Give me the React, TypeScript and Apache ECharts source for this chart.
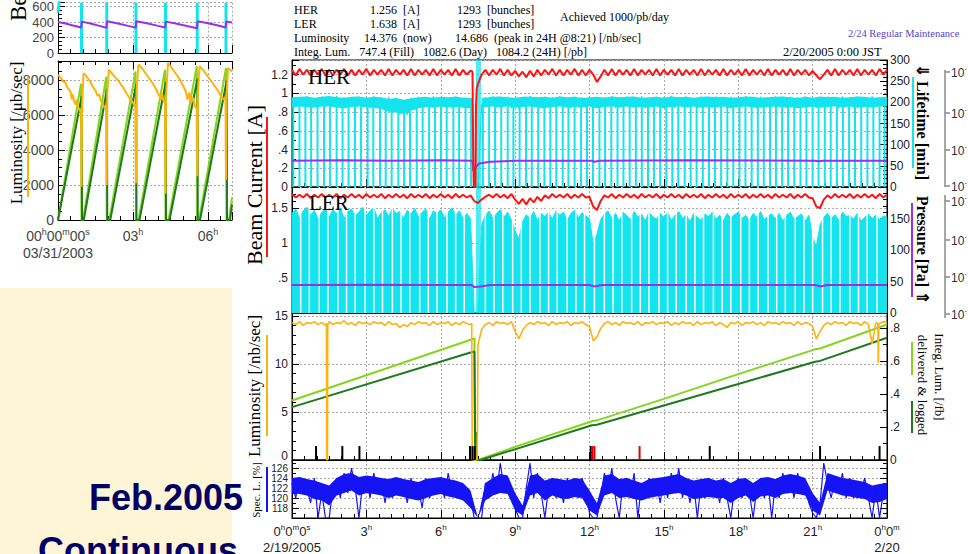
import React, { useEffect, useRef } from "react";
import * as echarts from "echarts";

const SANS = "'Liberation Sans', Arial, Helvetica, sans-serif";
const SERIF = "'Liberation Serif', 'Times New Roman', Times, serif";

const RED = "#ff1414";
const CYAN = "#14e4ee";
const PURPLE = "#9a2ef0";
const ORANGE = "#ffb20a";
const LGREEN = "#84d61c";
const DGREEN = "#1e7a1e";
const BLUE = "#1414f5";
const NAVY = "#000066";

// ================= Main chart: 2/19/2005 (hours 0..24) =================
// fine series sampled every STEP_H hours, band envelopes every BAND_STEP_H hours
const STEP_H = 0.15;
const BAND_STEP_H = 0.3;

// HER beam current [A]
const herCurrent = [
  1.25, 1.19, 1.26, 1.20, 1.25, 1.19, 1.25, 1.20, 1.26, 1.19,
  1.25, 1.19, 1.25, 1.20, 1.26, 1.19, 1.25, 1.19, 1.25, 1.20,
  1.26, 1.19, 1.25, 1.20, 1.25, 1.19, 1.26, 1.19, 1.25, 1.20,
  1.25, 1.19, 1.26, 1.19, 1.25, 1.20, 1.25, 1.19, 1.26, 1.19,
  1.25, 1.20, 1.25, 1.19, 1.26, 1.19, 1.25, 1.20, 1.24, 0.00,
  1.10, 1.20, 1.25, 1.19, 1.25, 1.20, 1.26, 1.19, 1.25, 1.19,
  1.24, 1.18, 1.23, 1.17, 1.24, 1.18, 1.25, 1.19, 1.25, 1.20,
  1.26, 1.19, 1.25, 1.19, 1.25, 1.20, 1.26, 1.19, 1.25, 1.19,
  1.25, 1.20, 1.12, 1.18, 1.25, 1.19, 1.26, 1.19, 1.25, 1.20,
  1.25, 1.19, 1.26, 1.19, 1.25, 1.20, 1.25, 1.19, 1.26, 1.19,
  1.25, 1.20, 1.25, 1.19, 1.26, 1.19, 1.25, 1.20, 1.25, 1.19,
  1.26, 1.19, 1.25, 1.20, 1.25, 1.19, 1.26, 1.19, 1.25, 1.20,
  1.25, 1.19, 1.26, 1.19, 1.25, 1.20, 1.25, 1.19, 1.26, 1.19,
  1.25, 1.20, 1.25, 1.19, 1.26, 1.19, 1.25, 1.20, 1.25, 1.19,
  1.24, 1.19, 1.15, 1.20, 1.25, 1.19, 1.26, 1.19, 1.25, 1.20,
  1.25, 1.19, 1.26, 1.19, 1.25, 1.20, 1.25, 1.19, 1.26, 1.20,
  1.25,
];
const herAbort = [[7.28, 1.23], [7.31, 0.35], [7.33, 0.02], [7.40, 0.0], [7.42, 0.85], [7.45, 1.05]];

// HER lifetime [min]: fine trace
const herLifetime = [
  205, 188, 212, 190, 214, 186, 210, 192, 213, 189,
  211, 190, 215, 187, 212, 191, 209, 185, 213, 190,
  212, 188, 214, 191, 208, 184, 212, 178, 210, 172,
  206, 170, 211, 183, 213, 188, 210, 190, 214, 189,
  212, 191, 210, 187, 213, 190, 211, 188, 205, 0,
  0, 195, 212, 190, 214, 188, 211, 191, 213, 187,
  210, 185, 212, 188, 214, 190, 211, 186, 213, 191,
  212, 189, 214, 190, 210, 187, 213, 191, 212, 188,
  211, 186, 200, 188, 212, 190, 214, 187, 211, 191,
  213, 189, 212, 190, 214, 186, 210, 191, 213, 188,
  212, 190, 215, 187, 211, 191, 213, 189, 210, 186,
  213, 190, 212, 188, 214, 191, 210, 187, 213, 190,
  211, 188, 214, 190, 212, 186, 213, 191, 210, 189,
  214, 190, 211, 187, 213, 191, 212, 188, 214, 190,
  210, 187, 200, 189, 213, 190, 212, 186, 214, 191,
  212, 189, 213, 190, 211, 188, 214, 190, 212, 195,
  210,
];
// HER lifetime noise band: upper / lower envelope [min]
const herBandHigh = [
  212, 213, 214, 211, 213, 215, 212, 211, 213, 214,
  211, 213, 212, 208, 210, 206, 209, 212, 213, 211,
  213, 212, 214, 211, 210, 0, 211, 213, 214, 212,
  211, 213, 214, 212, 213, 211, 214, 212, 213, 210,
  212, 213, 211, 214, 212, 213, 214, 211, 212, 213,
  211, 214, 212, 213, 211, 213, 214, 212, 213, 211,
  212, 214, 213, 211, 212, 213, 214, 212, 210, 213,
  211, 214, 212, 213, 211, 212, 214, 213, 211, 212,
  213,
];
const herBandLow = [
  188, 190, 189, 187, 190, 191, 188, 186, 189, 190,
  188, 187, 184, 178, 176, 172, 180, 186, 189, 187,
  190, 188, 189, 187, 186, 0, 189, 190, 188, 191,
  187, 189, 190, 188, 186, 189, 190, 187, 189, 188,
  190, 186, 189, 191, 188, 190, 187, 189, 188, 190,
  186, 189, 191, 188, 190, 187, 189, 188, 190, 186,
  189, 191, 188, 187, 189, 190, 188, 189, 186, 188,
  190, 187, 189, 191, 188, 190, 187, 189, 188, 190,
  191,
];
const herBandAbortHigh = [[7.30, 210], [7.32, 0], [7.64, 0], [7.66, 210]];
const herBandAbortLow = [[7.30, 186], [7.32, 0], [7.64, 0], [7.66, 186]];
// HER injection times [h]
const herInjections = [
  0.05, 0.30, 0.54, 0.77, 1.03, 1.29, 1.53, 1.80, 2.04, 2.28, 2.54, 2.78, 3.05, 3.28, 3.55,
  3.78, 4.02, 4.29, 4.52, 4.76, 5.03, 5.27, 5.53, 5.77, 6.01, 6.24, 6.51, 6.74, 7.00, 7.22,
  7.70, 7.95, 8.19, 8.44, 8.70, 8.93, 9.18, 9.44, 9.67, 9.93, 10.18, 10.42, 10.66, 10.92, 11.15,
  11.40, 11.66, 11.90, 12.14, 12.40, 12.63, 12.88, 13.13, 13.37, 13.62, 13.87, 14.11, 14.36,
  14.60, 14.85, 15.10, 15.34, 15.58, 15.84, 16.08, 16.32, 16.57, 16.82, 17.06, 17.31, 17.56,
  17.80, 18.05, 18.29, 18.54, 18.79, 19.03, 19.28, 19.52, 19.77, 20.01, 20.26, 20.51, 20.75,
  21.00, 21.24, 21.49, 21.73, 21.98, 22.22, 22.47, 22.71, 22.96, 23.21, 23.45, 23.70, 23.90,
];
const HER_DIP_TOP = 200;
const abortWindow = [7.42, 7.62];

const herPressure = [
  [0, 0.28], [2.0, 0.285], [4.0, 0.28], [6.0, 0.285], [7.28, 0.28], [7.32, 0.17], [7.40, 0.21],
  [7.55, 0.25], [8.0, 0.27], [9.0, 0.28], [12.1, 0.28], [12.2, 0.27], [12.4, 0.28], [16.0, 0.285],
  [21.1, 0.28], [21.25, 0.275], [21.4, 0.28], [24, 0.28],
];

// LER beam current [A]
const lerCurrent = [
  1.70, 1.65, 1.69, 1.65, 1.70, 1.64, 1.69, 1.65, 1.70, 1.65,
  1.69, 1.65, 1.70, 1.64, 1.69, 1.65, 1.70, 1.65, 1.69, 1.64,
  1.70, 1.65, 1.69, 1.65, 1.70, 1.64, 1.69, 1.65, 1.70, 1.65,
  1.69, 1.64, 1.70, 1.65, 1.69, 1.65, 1.70, 1.64, 1.69, 1.65,
  1.70, 1.65, 1.69, 1.64, 1.70, 1.65, 1.69, 1.65, 1.68, 1.60,
  1.57, 1.62, 1.66, 1.69, 1.65, 1.70, 1.65, 1.69, 1.64, 1.70,
  1.62, 1.56, 1.63, 1.55, 1.64, 1.58, 1.66, 1.60, 1.68, 1.64,
  1.70, 1.65, 1.69, 1.65, 1.70, 1.64, 1.69, 1.65, 1.70, 1.65,
  1.66, 1.52, 1.47, 1.60, 1.68, 1.65, 1.70, 1.64, 1.69, 1.65,
  1.70, 1.65, 1.69, 1.64, 1.70, 1.65, 1.69, 1.65, 1.70, 1.64,
  1.69, 1.65, 1.70, 1.65, 1.69, 1.64, 1.70, 1.65, 1.69, 1.65,
  1.70, 1.64, 1.69, 1.65, 1.70, 1.65, 1.69, 1.64, 1.70, 1.65,
  1.69, 1.65, 1.70, 1.64, 1.69, 1.65, 1.70, 1.65, 1.69, 1.64,
  1.70, 1.65, 1.69, 1.65, 1.70, 1.64, 1.69, 1.65, 1.70, 1.65,
  1.64, 1.52, 1.50, 1.62, 1.68, 1.64, 1.70, 1.65, 1.69, 1.65,
  1.70, 1.64, 1.69, 1.65, 1.70, 1.65, 1.69, 1.64, 1.70, 1.65,
  1.69,
];
// LER lifetime [min]
const lerLifetime = [
  158, 165, 150, 162, 168, 155, 163, 149, 160, 166,
  152, 164, 158, 167, 150, 161, 165, 154, 160, 168,
  155, 162, 167, 150, 159, 164, 153, 166, 158, 161,
  150, 163, 157, 166, 152, 160, 165, 149, 162, 158,
  164, 151, 160, 167, 155, 162, 150, 158, 150, 0,
  0, 140, 155, 162, 150, 158, 164, 152, 160, 148,
  130, 118, 145, 156, 150, 161, 147, 158, 153, 160,
  149, 162, 155, 160, 147, 158, 163, 151, 159, 154,
  150, 110, 125, 148, 157, 162, 150, 158, 146, 160,
  155, 148, 161, 152, 157, 146, 160, 153, 149, 158,
  152, 160, 147, 155, 161, 150, 156, 145, 158, 152,
  147, 157, 153, 160, 149, 155, 146, 158, 151, 156,
  160, 150, 155, 147, 158, 152, 161, 148, 154, 157,
  150, 158, 146, 155, 160, 149, 153, 157, 146, 155,
  120, 105, 140, 152, 158, 150, 156, 147, 160, 153,
  155, 149, 158, 146, 152, 157, 150, 155, 148, 154,
  152,
];
const lerRefills = [
  0.35, 0.70, 1.10, 1.45, 1.85, 2.20, 2.55, 2.95, 3.30, 3.65, 4.05, 4.40, 4.75, 5.15, 5.50,
  5.85, 6.25, 6.60, 6.95, 7.80, 8.15, 8.50, 8.90, 9.25, 9.60, 10.00, 10.35, 10.70, 11.10,
  11.45, 11.80, 12.20, 12.60, 12.95, 13.30, 13.70, 14.05, 14.40, 14.80, 15.15, 15.50, 15.90,
  16.25, 16.60, 17.00, 17.35, 17.70, 18.10, 18.45, 18.80, 19.20, 19.55, 19.90, 20.30, 20.65,
  21.00, 21.40, 21.75, 22.10, 22.50, 22.85, 23.20, 23.60,
];
const LER_TOP = 200;
const lerPressure = [
  [0, 0.40], [3.0, 0.405], [6.0, 0.40], [7.25, 0.40], [7.35, 0.37], [7.6, 0.38], [8.0, 0.40],
  [12.0, 0.40], [12.2, 0.38], [12.5, 0.40], [21.1, 0.40], [21.3, 0.38], [21.6, 0.40], [24, 0.40],
];

// Luminosity [/nb/sec]
const lumNow = [
  14.3, 14.1, 14.4, 14.0, 14.3, 14.2, 14.4, 14.1, 14.3, 14.0,
  14.4, 14.1, 14.3, 14.2, 14.5, 14.1, 14.3, 14.0, 14.4, 14.2,
  14.3, 14.1, 14.4, 14.2, 14.3, 14.0, 14.4, 14.1, 14.2, 13.8,
  14.1, 13.9, 14.3, 14.1, 14.4, 14.2, 14.3, 14.0, 14.4, 14.1,
  14.3, 14.2, 14.4, 14.0, 14.3, 14.1, 14.4, 14.2, 14.1, 0,
  12.0, 13.6, 14.1, 14.3, 14.0, 14.4, 14.2, 14.3, 14.1, 14.4,
  13.4, 12.6, 13.5, 14.0, 14.3, 14.1, 14.4, 14.2, 14.3, 14.0,
  14.4, 14.1, 14.3, 14.2, 14.4, 14.0, 14.3, 14.2, 14.4, 14.1,
  13.9, 12.4, 12.8, 13.7, 14.2, 14.4, 14.1, 14.3, 14.0, 14.4,
  14.2, 14.3, 14.1, 14.4, 14.0, 14.3, 14.2, 14.4, 14.1, 14.3,
  14.2, 14.4, 14.0, 14.3, 14.1, 14.4, 14.2, 14.3, 14.0, 14.4,
  14.1, 14.3, 14.2, 14.4, 14.0, 14.3, 14.1, 13.8, 14.3, 14.2,
  14.4, 14.0, 14.3, 14.2, 14.4, 14.1, 14.3, 14.0, 14.4, 14.2,
  14.3, 14.1, 14.4, 14.2, 14.3, 14.0, 14.4, 14.1, 14.3, 14.2,
  13.9, 12.6, 13.4, 14.0, 14.3, 14.1, 14.4, 14.2, 14.3, 14.0,
  14.4, 14.2, 14.3, 14.0, 14.4, 14.1, 12.1, 14.3, 14.2, 14.4,
  14.3,
];
const lumSpikes = [
  [1.39, 14.2], [1.40, 0], [1.43, 0], [1.44, 14.1],
  [7.25, 14.2], [7.27, 0], [7.46, 0], [7.48, 3.2],
  [23.63, 14.2], [23.65, 10.1], [23.67, 14.1],
];
// Integrated luminosity [/fb]
const lumDelivered = [
  [0, 0.36], [7.30, 0.733], [7.36, 0.735], [7.38, 0], [7.50, 0], [9.2, 0.09], [12.1, 0.235],
  [12.3, 0.24], [15, 0.37], [18, 0.52], [21.1, 0.67], [21.3, 0.675], [24, 0.82],
];
const lumLogged = [
  [0, 0.32], [7.30, 0.655], [7.36, 0.656], [7.37, 0.47], [7.39, 0], [7.42, 0.17], [7.44, 0],
  [7.60, 0], [12.1, 0.21], [12.3, 0.213], [15, 0.33], [18, 0.46], [21.1, 0.595], [21.3, 0.6], [24, 0.74],
];
const eventsBlack = [0.97, 2.03, 2.72, 7.18, 7.28, 7.37, 12.05, 16.85, 21.3, 23.7];
const eventsRed = [12.12, 12.2, 14.02];
const EVENT_LEVEL = 1.45;

// Specific luminosity [%]: fine trace
const specL = [
  123, 120, 124, 121, 122, 119, 124, 116, 121, 116,
  116, 122, 124, 120, 125, 121, 126, 122, 116, 123,
  124, 120, 125, 121, 124, 119, 123, 120, 124, 121,
  123, 119, 124, 120, 122, 118, 124, 120, 123, 121,
  124, 120, 125, 121, 123, 120, 122, 119, 120, 116,
  116, 116, 123, 120, 125, 121, 127, 122, 124, 120,
  118, 116, 116, 122, 127, 120, 125, 121, 116, 122,
  124, 120, 123, 119, 124, 121, 122, 120, 124, 121,
  117, 116, 116, 120, 125, 121, 126, 120, 116, 123,
  124, 120, 125, 116, 123, 120, 124, 121, 123, 119,
  124, 120, 125, 121, 126, 120, 124, 119, 123, 116,
  123, 120, 124, 121, 123, 119, 124, 120, 116, 122,
  124, 120, 123, 121, 116, 122, 124, 120, 123, 116,
  123, 120, 125, 121, 124, 120, 125, 121, 123, 119,
  117, 116, 119, 127, 123, 120, 124, 121, 125, 120,
  124, 120, 123, 121, 124, 120, 116, 122, 116, 121,
  123,
];
// Specific luminosity noise band envelopes [%]
const specBandHigh = [
  124.0, 124.2, 123.8, 123.5, 123.0, 122.5, 124.0, 124.8, 125.0, 124.2,
  124.5, 124.3, 124.0, 123.8, 124.2, 123.8, 123.5, 123.2, 123.8, 124.0,
  124.2, 123.8, 123.5, 123.0, 121.5, 116.0, 123.0, 124.0, 124.8, 124.5,
  121.0, 118.5, 124.5, 124.8, 123.5, 124.0, 123.8, 123.5, 124.0, 123.8,
  121.5, 119.0, 124.5, 124.8, 123.8, 124.0, 123.5, 123.0, 123.8, 124.0,
  124.2, 124.5, 124.8, 124.0, 123.5, 123.8, 124.0, 123.5, 123.8, 123.0,
  123.8, 124.0, 123.0, 124.0, 124.2, 123.8, 124.5, 124.8, 124.5, 124.0,
  121.0, 119.0, 125.0, 124.5, 124.0, 123.8, 123.5, 123.2, 122.5, 122.8,
  123.0,
];
const specBandLow = [
  121.0, 120.8, 120.5, 119.8, 119.5, 118.5, 120.5, 121.0, 121.5, 120.5,
  121.0, 120.8, 120.5, 120.0, 120.5, 120.2, 119.8, 119.5, 120.0, 120.5,
  120.8, 120.3, 120.0, 119.5, 118.0, 116.0, 119.5, 120.5, 121.0, 120.8,
  117.5, 116.5, 120.5, 121.0, 119.5, 120.5, 120.0, 119.8, 120.2, 120.0,
  117.5, 116.5, 120.5, 121.0, 120.0, 120.2, 119.8, 119.5, 120.0, 120.3,
  120.5, 120.8, 121.0, 120.5, 119.8, 120.0, 120.2, 120.0, 120.0, 119.0,
  120.0, 120.5, 119.2, 120.3, 120.5, 120.0, 120.8, 121.0, 120.8, 120.5,
  117.5, 116.5, 121.5, 121.0, 120.5, 120.3, 120.0, 119.8, 119.0, 119.2,
  119.8,
];

// ================= Inset: 03/31/2003 (hours 0..6.96) =================
const oldLum = [
  [0.00, 8300], [0.08, 8200], [0.15, 8050], [0.22, 7900], [0.28, 7950], [0.35, 7650], [0.42, 7500],
  [0.50, 7350], [0.55, 6900], [0.58, 7200], [0.65, 6800], [0.70, 6600], [0.76, 6900], [0.80, 6300],
  [0.85, 6400], [0.90, 6200], [0.93, 6300], [0.94, 1900], [0.96, 6400], [1.02, 8400], [1.10, 8300],
  [1.20, 8100], [1.30, 7900], [1.40, 7600], [1.50, 7400], [1.58, 7100], [1.65, 7200], [1.72, 6800],
  [1.80, 6600], [1.87, 6400], [1.93, 6300], [1.95, 2000], [1.97, 7200], [2.03, 8600], [2.15, 8400],
  [2.30, 8150], [2.45, 7900], [2.60, 7600], [2.72, 7300], [2.85, 7000], [2.95, 6800], [3.05, 6600],
  [3.10, 6500], [3.12, 2100], [3.14, 7400], [3.22, 8900], [3.35, 8700], [3.50, 8400], [3.65, 8100],
  [3.80, 7800], [3.92, 7500], [4.02, 7200], [4.10, 6900], [4.15, 7300], [4.22, 6800], [4.28, 6700],
  [4.30, 1500], [4.32, 7100], [4.40, 9000], [4.55, 8700], [4.70, 8400], [4.85, 8100], [5.00, 7700],
  [5.10, 7400], [5.18, 6900], [5.25, 7300], [5.32, 6700], [5.40, 7000], [5.48, 6500], [5.55, 6400],
  [5.57, 2500], [5.59, 7200], [5.66, 8800], [5.80, 8600], [5.95, 8300], [6.10, 8000], [6.25, 7700],
  [6.40, 7400], [6.52, 7100], [6.62, 6900], [6.70, 7000], [6.72, 2300], [6.74, 6900], [6.80, 8700],
  [6.96, 8500],
];
const oldDelivered = [
  [0, 0], [0.92, 7800], [0.94, 0], [1.00, 0], [1.93, 8200], [1.95, 0], [2.05, 0], [3.10, 8500],
  [3.12, 0], [3.22, 0], [4.28, 8600], [4.30, 0], [4.42, 0], [5.55, 8800], [5.57, 0], [5.64, 0],
  [6.72, 8700], [6.74, 0], [6.84, 0], [6.96, 1300],
];
const oldLogged = [
  [0, 0], [0.95, 7100], [0.96, 0], [1.03, 0], [1.96, 7500], [1.97, 0], [2.09, 0], [3.13, 7800],
  [3.14, 0], [3.26, 0], [4.31, 7900], [4.32, 0], [4.46, 0], [5.58, 8100], [5.59, 0], [5.68, 0],
  [6.75, 8000], [6.76, 0], [6.88, 0], [6.96, 900],
];
const oldPressure = [
  [0, 400], [0.3, 380], [0.6, 355], [0.93, 330], [0.95, 405], [1.3, 380], [1.65, 350], [1.94, 325],
  [1.96, 410], [2.4, 380], [2.8, 350], [3.11, 330], [3.13, 410], [3.6, 380], [4.0, 350], [4.29, 330],
  [4.31, 405], [4.8, 375], [5.2, 345], [5.56, 320], [5.58, 410], [6.0, 385], [6.4, 355], [6.71, 330],
  [6.73, 405], [6.96, 395],
];
const oldInjections = [0.94, 1.95, 3.12, 4.30, 5.57, 6.72];
const oldCurrentTop = [[0, 520], [0.04, 640], [0.08, 700]];
const OLD_SPIKE_TOP = 650;

// ================= Tick labels =================
const mainHourTicks = [0, 3, 6, 9, 12, 15, 18, 21, 24];
const mainHourLabels = [
  "{n|0}{s|h}{n|0}{s|m}{n|0}{s|s}\n{n|2/19/2005}",
  "{n|3}{s|h}", "{n|6}{s|h}", "{n|9}{s|h}", "{n|12}{s|h}", "{n|15}{s|h}", "{n|18}{s|h}", "{n|21}{s|h}",
  "{n|0}{s|h}{n|0}{s|m}\n{n|2/20}",
];
const oldHourTicks = [0, 3, 6];
const oldHourLabels = ["{n|00}{s|h}{n|00}{s|m}{n|00}{s|s}\n{n|03/31/2003}", "{n|03}{s|h}", "{n|06}{s|h}"];

// ---------------- helpers ----------------
const uniform = (vals: number[], step = STEP_H) => vals.map((v, i) => [Math.round(i * step * 100) / 100, v]);
const merge = (a: number[][], b: number[][]) => [...a, ...b].sort((p, q) => p[0] - q[0]);
const fmtNum = (v: number) => {
  const s = String(Math.round(v * 1000) / 1000);
  return s.startsWith("0.") ? s.slice(1) : s;
};
const GRID_LINE = { color: "#a9a9a9", type: [2, 2], width: 1 };

function yAx(o: any) {
  return {
    type: "value", gridIndex: o.grid, position: o.pos || "left", min: o.min, max: o.max, interval: o.interval,
    axisLine: { show: true, onZero: false, lineStyle: { color: "#000", width: 1 } },
    axisTick: { show: true, inside: true, length: 7, lineStyle: { color: "#000" } },
    minorTick: { show: !!o.minor, splitNumber: o.minor || 5, length: 4, lineStyle: { color: "#000" } },
    splitLine: { show: !!o.split, lineStyle: GRID_LINE },
    axisLabel: {
      show: o.labels !== false, margin: o.margin ?? 4, fontFamily: SANS, fontSize: o.fs || 12,
      color: o.labelColor || "#222", showMaxLabel: !!o.showMax, showMinLabel: o.showMin !== false,
      formatter: o.fmt || fmtNum, rich: o.rich,
    },
  };
}
const rich = (fs: number, color: string) => ({
  n: { fontSize: fs, fontFamily: SANS, color, lineHeight: fs + 3 },
  s: { fontSize: Math.round(fs * 0.62), fontFamily: SANS, color, lineHeight: Math.round(fs * 0.62), verticalAlign: "top" },
});
function xAx(o: any) {
  return {
    type: "value", gridIndex: o.grid, position: o.pos || "bottom", min: 0, max: o.max, interval: 3,
    axisLine: { show: true, onZero: false, lineStyle: { color: "#000", width: 1 } },
    axisTick: { show: true, inside: true, length: 8, lineStyle: { color: "#000" } },
    minorTick: { show: true, splitNumber: 6, length: 4, lineStyle: { color: "#000" } },
    splitLine: { show: o.split !== false, lineStyle: GRID_LINE },
    axisLabel: {
      show: !!o.labels, margin: o.margin ?? 5, showMaxLabel: o.showMax !== false,
      formatter: (v: number) => {
        const k = o.ticks ? o.ticks.indexOf(Math.round(v * 100) / 100) : -1;
        return k >= 0 ? o.texts[k] : "";
      },
      rich: rich(o.fs || 13, o.labelColor || "#222"),
    },
  };
}
const line = (name: string, x: number, y: number, data: any, color: string, width: number, z = 3, extra: any = {}) => ({
  name, type: "line", xAxisIndex: x, yAxisIndex: y, data, symbol: "none", showSymbol: false, z,
  lineStyle: { color, width }, itemStyle: { color }, ...extra,
});
// filled band between two envelopes, drawn through the axes' own scales
const band = (name: string, x: number, y: number, hi: number[][], lo: number[][], color: string, z: number) => ({
  name, type: "custom", xAxisIndex: x, yAxisIndex: y, z, silent: true,
  data: [hi[0]],
  renderItem: (params: any, api: any) => {
    const pts = hi.map((p) => api.coord(p)).concat(lo.slice().reverse().map((p) => api.coord(p)));
    return { type: "polygon", shape: { points: pts }, style: { fill: color } };
  },
});
const bars = (name: string, x: number, y: number, times: number[], h: number, color: string, width: number, z = 2) => ({
  name, type: "bar", xAxisIndex: x, yAxisIndex: y, data: times.map((t) => [t, h]), barWidth: width, barGap: "-100%",
  itemStyle: { color }, z,
});
const T = (x: number, y: number, text: string, o: any = {}) => ({
  type: "text", x, y, rotation: o.rot || 0, z: 100,
  style: {
    text, fill: o.color || "#000", font: o.font || `12px ${SERIF}`,
    align: o.align || "left", verticalAlign: o.va || "middle",
    textAlign: o.align || "left", textVerticalAlign: o.va || "middle",
  },
});
const R = (x: number, y: number, w: number, h: number, fill: string, z = 50) => ({
  type: "rect", z, shape: { x, y, width: w, height: h }, style: { fill },
});
const L = (x1: number, y1: number, x2: number, y2: number, stroke: string, w = 1) => ({
  type: "line", z: 50, shape: { x1, y1, x2, y2 }, style: { stroke, lineWidth: w },
});

function buildOption() {
  const logAxis = (top: number, bottom: number, ticks: number[]) => [
    L(945, top, 945, bottom, "#8a8a8a", 1.5),
    ...ticks.map((ty) => L(945, ty, 950, ty, "#8a8a8a", 1.5)),
    ...ticks.map((ty) => T(951, ty + 1, "10", { font: `12px ${SANS}`, color: "#333" })),
    ...ticks.map((ty) => T(964.5, ty - 4, "-", { font: `7px ${SANS}`, color: "#333" })),
  ];

  const graphic = [
    R(0, 288, 232, 266, "#fef4d6", 0),
    T(243, 497, "Feb.2005", { font: `bold 36px ${SANS}`, color: NAVY, align: "right" }),
    T(38, 550, "Continuous", { font: `bold 36px ${SANS}`, color: NAVY }),
    // inset labels
    T(18, 21, "Beam Current [mA]", { font: `23px ${SERIF}`, rot: Math.PI / 2 }),
    T(16, 133, "Luminosity [/μb/sec]", { font: `17px ${SERIF}`, rot: Math.PI / 2, align: "center" }),
    R(27, 77, 2, 120, ORANGE),
    // header texts
    T(294, 10, "HER"), T(370, 10, "1.256  [A]"), T(457, 10, "1293  [bunches]"),
    T(294, 24, "LER"), T(370, 24, "1.638  [A]"), T(457, 24, "1293  [bunches]"),
    T(560, 17, "Achieved 1000/pb/day"),
    T(294, 38, "Luminosity"), T(364, 38, "14.376  (now)"), T(455, 38, "14.686  (peak in 24H @8:21) [/nb/sec]"),
    T(294, 52, "Integ. Lum.   747.4 (Fill)   1082.6 (Day)   1084.2 (24H) [/pb]"),
    T(848, 33, "2/24 Regular Maintenance", { font: `10.5px ${SERIF}`, color: "#5a3fd0" }),
    T(783, 52, "2/20/2005 0:00 JST", { font: `12.5px ${SERIF}` }),
    // panel names
    T(308, 77, "HER", { font: `21px ${SERIF}` }),
    T(309, 203, "LER", { font: `21px ${SERIF}` }),
    // left axis names
    T(254, 185, "Beam Current [A]", { font: `22px ${SERIF}`, rot: Math.PI / 2, align: "center" }),
    R(266, 117, 2, 140, RED),
    T(254, 386, "Luminosity [/nb/sec]", { font: `17px ${SERIF}`, rot: Math.PI / 2, align: "center" }),
    R(266, 335, 2, 101, ORANGE),
    T(256, 490, "Spec. L. [%]", { font: `11px ${SERIF}`, rot: Math.PI / 2, align: "center" }),
    R(266, 467, 2, 45, BLUE),
    // right axis names
    T(922, 122, "⇓ Lifetime [min]", { font: `bold 16px ${SERIF}`, rot: -Math.PI / 2, align: "center" }),
    R(912, 77, 2, 91, CYAN),
    T(922, 250, "Pressure [Pa] ⇑", { font: `bold 16px ${SERIF}`, rot: -Math.PI / 2, align: "center" }),
    R(911, 203, 2, 94, PURPLE),
    T(939, 377, "Integ. Lum. [/fb]", { font: `13px ${SERIF}`, rot: -Math.PI / 2, align: "center" }),
    T(922, 385, "delivered & logged", { font: `13px ${SERIF}`, rot: -Math.PI / 2, align: "center" }),
    R(911, 342, 2, 33, LGREEN),
    R(911, 401, 2, 32, DGREEN),
    ...logAxis(70, 187, [72, 113, 150, 186]),
    ...logAxis(195, 318, [201, 240, 277, 314]),
  ];

  const grid = [
    { left: 58, top: 0, width: 174, height: 53 },
    { left: 58, top: 61, width: 174, height: 159 },
    { left: 292, top: 60, width: 595, height: 127, show: true, borderColor: "#000", borderWidth: 1 },
    { left: 292, top: 187, width: 595, height: 126, show: true, borderColor: "#000", borderWidth: 1 },
    { left: 292, top: 313, width: 595, height: 147, show: true, borderColor: "#000", borderWidth: 1 },
    { left: 292, top: 460, width: 595, height: 58, show: true, borderColor: "#000", borderWidth: 1 },
  ];

  const xAxis = [
    xAx({ grid: 0, max: 6.96 }),
    xAx({ grid: 1, max: 6.96, labels: true, ticks: oldHourTicks, texts: oldHourLabels, fs: 14, labelColor: "#444", showMax: false, margin: 7 }),
    xAx({ grid: 1, max: 6.96, pos: "top", split: false }),
    xAx({ grid: 2, max: 24 }),
    xAx({ grid: 3, max: 24 }),
    xAx({ grid: 4, max: 24 }),
    xAx({ grid: 5, max: 24, labels: true, ticks: mainHourTicks, texts: mainHourLabels, fs: 13 }),
  ];

  const lumLeftFmt = (v: number) => (v === 0 ? "{z|0}" : fmtNum(v));
  const yAxis = [
    yAx({ grid: 0, min: 0, max: 650, interval: 200, minor: 4, split: true, fs: 13, labelColor: "#444" }),
    yAx({ grid: 1, min: 0, max: 9100, interval: 2000, minor: 4, split: true, fs: 14, labelColor: "#444" }),
    yAx({ grid: 2, min: 0, max: 1.355, interval: 0.2, minor: 2, split: true }),
    yAx({ grid: 2, pos: "right", min: 0, max: 300, interval: 50, minor: 5, showMax: true, margin: 3 }),
    yAx({ grid: 3, min: 0, max: 1.8, interval: 0.5, minor: 5, split: true, showMin: false }),
    yAx({ grid: 3, pos: "right", min: 0, max: 200, interval: 50, minor: 5, margin: 3 }),
    yAx({
      grid: 4, min: 0, max: 15.3, interval: 5, minor: 5, split: true, fmt: lumLeftFmt,
      rich: { z: { fontSize: 12, fontFamily: SANS, color: "#222", padding: [0, 0, 8, 0] } },
    }),
    yAx({ grid: 4, pos: "right", min: 0, max: 0.89, interval: 0.2, minor: 2, margin: 3 }),
    yAx({ grid: 5, min: 116, max: 127.6, interval: 2, minor: 2, split: true, fs: 10, showMin: false }),
    yAx({ grid: 5, pos: "right", min: 116, max: 127.6, interval: 2, minor: 2, labels: false }),
  ];

  const stripe = {
    silent: true, label: { show: false }, itemStyle: { color: CYAN, opacity: 0.75 },
    data: [[{ xAxis: abortWindow[0] }, { xAxis: abortWindow[1] }]],
  };

  const herHi = merge(uniform(herBandHigh, BAND_STEP_H), herBandAbortHigh);
  const herLo = merge(uniform(herBandLow, BAND_STEP_H), herBandAbortLow);

  const series = [
    // inset 2003
    bars("old current spikes", 0, 0, oldInjections, OLD_SPIKE_TOP, CYAN, 3, 1),
    line("old current", 0, 0, oldCurrentTop, CYAN, 3, 1),
    line("old pressure", 0, 0, oldPressure, PURPLE, 2, 3),
    line("old delivered", 1, 1, oldDelivered, LGREEN, 2, 3),
    line("old logged", 1, 1, oldLogged, DGREEN, 2, 3),
    line("old luminosity", 1, 1, oldLum, ORANGE, 2, 4),
    // HER
    bars("HER injections", 3, 3, herInjections, HER_DIP_TOP, CYAN, 2, 1),
    band("HER lifetime band", 3, 3, herHi, herLo, CYAN, 1),
    line("HER lifetime", 3, 3, uniform(herLifetime), CYAN, 1.2, 1, { markArea: stripe }),
    line("HER pressure", 3, 2, herPressure, PURPLE, 2, 3),
    line("HER current", 3, 2, merge(uniform(herCurrent), herAbort), RED, 2, 4),
    // LER
    line("LER lifetime", 4, 5, uniform(lerLifetime), CYAN, 1, 1, { areaStyle: { color: CYAN, opacity: 1 }, markArea: stripe }),
    bars("LER refills", 4, 5, lerRefills, LER_TOP, "#ffffff", 1.5, 2),
    line("LER pressure", 4, 4, lerPressure, PURPLE, 2, 3),
    line("LER current", 4, 4, uniform(lerCurrent), RED, 2, 4),
    // Luminosity
    line("delivered", 5, 7, lumDelivered, LGREEN, 2, 3),
    line("logged", 5, 7, lumLogged, DGREEN, 2, 3),
    line("luminosity", 5, 6, merge(uniform(lumNow), lumSpikes), ORANGE, 1.6, 4),
    bars("events", 5, 6, eventsBlack, EVENT_LEVEL, "#000", 2, 5),
    bars("events red", 5, 6, eventsRed, EVENT_LEVEL, "#e00000", 2, 5),
    // Spec L
    band("spec L band", 6, 8, uniform(specBandHigh, BAND_STEP_H), uniform(specBandLow, BAND_STEP_H), BLUE, 2),
    line("spec L", 6, 8, uniform(specL), BLUE, 1.2, 3),
  ];

  return { animation: false, backgroundColor: "#fff", grid, xAxis, yAxis, series, graphic };
}

export default function App() {
  const ref = useRef<HTMLDivElement>(null);
  useEffect(() => {
    const chart = echarts.init(ref.current as HTMLDivElement, null, { renderer: "svg" });
    chart.setOption(buildOption() as any);
    return () => chart.dispose();
  }, []);
  return (
    <div
      ref={ref}
      style={{ position: "fixed", left: 0, top: 0, width: 968, height: 554, background: "#fff" }}
    />
  );
}
